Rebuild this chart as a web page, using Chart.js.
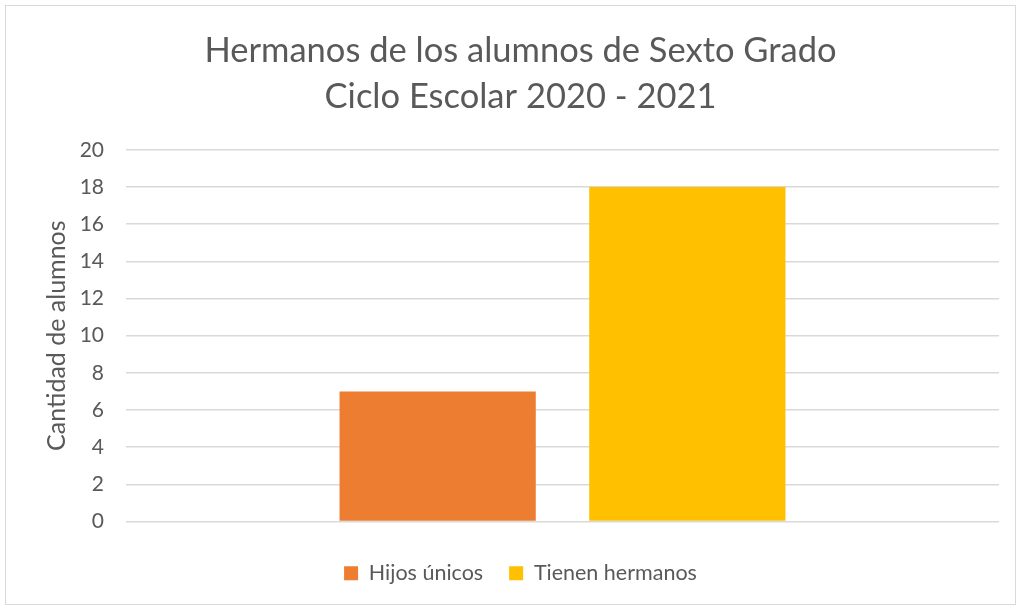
<!DOCTYPE html>
<html>
<head>
<meta charset="utf-8">
<script src="https://cdn.jsdelivr.net/npm/chart.js@4"></script>
<style>
  body { margin: 0; background: #fff; }
  #frame { position: absolute; left: 5px; top: 5px; width: 1009px; height: 598px; border: 1px solid #d9d9d9; }
  canvas { display: block; }
</style>
</head>
<body>
<div id="frame"><canvas id="chart" width="1009" height="598"></canvas></div>
<script>
// Datos
const categories = [''];
const seriesNames = ['Hijos únicos', 'Tienen hermanos'];
const hijosUnicos = [7];
const tienenHermanos = [18];
const yTicks = [0, 2, 4, 6, 8, 10, 12, 14, 16, 18, 20];

const gray = '#595959';
const font = 'Lato';

new Chart(document.getElementById('chart'), {
    type: 'bar',
    data: {
        labels: categories,
        datasets: [
            { label: seriesNames[0], data: hijosUnicos, backgroundColor: '#ED7D31' },
            { label: seriesNames[1], data: tienenHermanos, backgroundColor: '#FFC000' }
        ]
    },
    options: {
        responsive: false,
        animation: false,
        categoryPercentage: 0.572,
        barPercentage: 0.786,
        layout: { padding: { left: 36, right: 16, top: 10, bottom: 10 } },
        plugins: {
            title: {
                display: true,
                text: ['Hermanos de los alumnos de Sexto Grado', 'Ciclo Escolar 2020 - 2021'],
                color: gray,
                font: { family: font, size: 34.5, weight: 'normal', lineHeight: 1.33 },
                padding: { top: 12, bottom: 30 }
            },
            legend: {
                position: 'bottom',
                labels: {
                    color: gray,
                    font: { family: font, size: 21.5 },
                    boxWidth: 14,
                    boxHeight: 14,
                    padding: 26
                }
            },
            tooltip: { enabled: false }
        },
        scales: {
            x: {
                grid: { display: false },
                border: { display: false },
                ticks: { display: false },
                afterFit: axis => { axis.height = 15; }
            },
            y: {
                min: 0,
                max: 20,
                afterBuildTicks: axis => { axis.ticks = yTicks.map(v => ({ value: v })); },
                afterFit: axis => { axis.width = 84; },
                grid: { color: '#d9d9d9', lineWidth: 1.5, drawTicks: false },
                border: { display: false },
                ticks: { color: gray, font: { family: font, size: 21 }, padding: 22 },
                title: {
                    display: true,
                    text: 'Cantidad de alumnos',
                    color: gray,
                    font: { family: font, size: 25 },
                    padding: { top: 0, bottom: 2 }
                }
            }
        }
    }
});
</script>
</body>
</html>
